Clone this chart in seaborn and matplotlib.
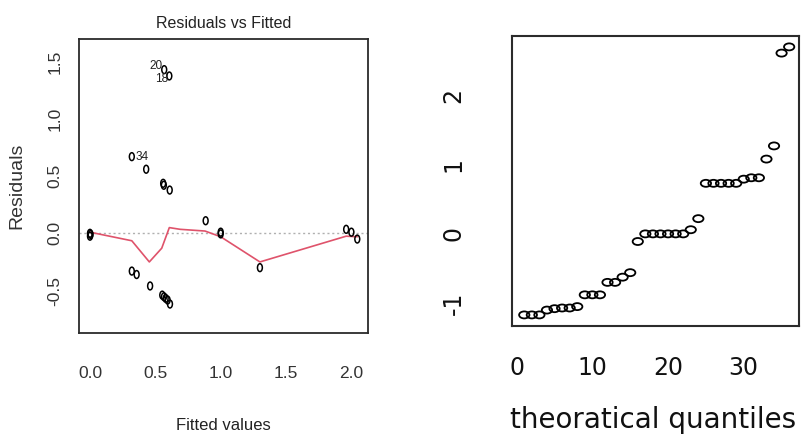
import numpy as np
import pandas as pd
import matplotlib
matplotlib.use("Agg")
import matplotlib.pyplot as plt
from matplotlib.path import Path
import seaborn as sns

# ---------------- data ----------------
fitted = [0.0, 0.0, 0.005, 0.32, 0.43, 0.56, 0.565, 0.61, 0.568, 0.607,
          0.32, 0.357, 0.46, 0.553, 0.566, 0.579, 0.594, 0.612,
          0.885, 1.0, 1.0, 1.30, 1.96, 2.0, 2.045]
residuals = [0.0, -0.025, -0.01, 0.67, 0.56, 0.437, 0.42, 0.378, 1.43, 1.375,
             -0.33, -0.36, -0.46, -0.54, -0.554, -0.568, -0.583, -0.618,
             0.11, 0.01, -0.005, -0.30, 0.035, 0.01, -0.05]

smooth_x = [0.0, 0.32, 0.454, 0.549, 0.607, 0.69, 0.88, 1.0, 1.30, 1.96, 2.045]
smooth_y = [0.01, -0.065, -0.25, -0.13, 0.05, 0.035, 0.02, -0.03, -0.25, -0.025, -0.03]

label_text = ["34", "20", "18"]
label_x = [0.32, 0.568, 0.607]
label_y = [0.67, 1.43, 1.375]
label_side = ["right", "left", "left"]

left_xticks = [0.0, 0.5, 1.0, 1.5, 2.0]
left_yticks = [-0.5, 0.0, 0.5, 1.0, 1.5]

quantile_index = list(range(1, 37))
sorted_resid = [-1.17, -1.17, -1.17, -1.10, -1.08, -1.07, -1.07, -1.05,
                -0.88, -0.88, -0.88, -0.70, -0.70, -0.625, -0.56, -0.11,
                0.0, 0.0, 0.0, 0.0, 0.0, 0.0, 0.06, 0.22,
                0.73, 0.73, 0.73, 0.73, 0.73, 0.79, 0.81, 0.81,
                1.08, 1.27, 2.61, 2.70]
right_xticks = [0, 5, 10, 15, 20, 25, 30, 35]
right_xticklabels = ["0", "", "10", "", "20", "", "30", ""]
right_yticks = [-1, 0, 1, 2]

# ---------------- style ----------------
sns.set_theme(style="white")
plt.rcParams["font.family"] = ["DejaVu Sans"]
NARROW = ["Liberation Sans Narrow", "Liberation Sans", "DejaVu Sans"]
ARIAL = ["Liberation Sans", "DejaVu Sans"]

def ellipse_marker(wx, hy):
    c = Path.unit_circle()
    return Path(c.vertices * np.array([wx, hy]), c.codes)

fig = plt.figure(figsize=(8.03, 4.40), dpi=100)
W, H = 803, 440

def add_axes_px(x0, y0, x1, y1):
    return fig.add_axes([x0 / W, 1 - y1 / H, (x1 - x0) / W, (y1 - y0) / H])

spine_col = "#2b2b2b"

# ---------------- left: Residuals vs Fitted ----------------
ax1 = add_axes_px(79, 39, 368, 333)
df1 = pd.DataFrame({"fitted": fitted, "resid": residuals})
ax1.axhline(0, color="#b0b0b0", ls=(0, (1.5, 2)), lw=1.0, zorder=1)
sns.lineplot(x=smooth_x, y=smooth_y, ax=ax1, color="#DF536B", lw=1.2,
             sort=False, estimator=None, zorder=2)
sns.scatterplot(data=df1, x="fitted", y="resid", ax=ax1,
                marker=ellipse_marker(0.62, 1.0), s=32, linewidth=1.1, zorder=3)
ax1.collections[-1].set_facecolor("none")
ax1.collections[-1].set_edgecolor("black")

offsets = {"20": (-1, 2.5), "18": (-1, -2.5)}
for t, x, y, side in zip(label_text, label_x, label_y, label_side):
    if side == "right":
        ax1.annotate(t, (x, y), xytext=(3, 0), textcoords="offset points",
                     ha="left", va="center", fontsize=8.5, family=NARROW, color="#222222")
    else:
        ax1.annotate(t, (x, y), xytext=offsets.get(t, (-1, 0)), textcoords="offset points",
                     ha="right", va="center", fontsize=8.5, family=NARROW, color="#222222")

ax1.set_xlim(-0.084, 2.127)
ax1.set_ylim(-0.871, 1.698)
ax1.set_xticks(left_xticks)
ax1.set_xticklabels(["0.0", "0.5", "1.0", "1.5", "2.0"], family=NARROW, fontsize=12.5, color="#333333")
ax1.set_yticks(left_yticks)
ax1.set_yticklabels(["-0.5", "0.0", "0.5", "1.0", "1.5"], family=ARIAL, fontsize=12.5,
                    rotation=90, va="center", color="#333333")
ax1.tick_params(axis="x", direction="out", length=10, width=1.2, color=spine_col, pad=14)
ax1.tick_params(axis="y", direction="out", length=7, width=1.2, color=spine_col, pad=5)
for s in ax1.spines.values():
    s.set_color(spine_col)
    s.set_linewidth(1.3)
ax1.set_title("Residuals vs Fitted", family=NARROW, fontsize=11.5, color="#222222", pad=8)
ax1.set_xlabel("Fitted values", family=NARROW, fontsize=12, color="#222222")
ax1.xaxis.set_label_coords(0.5, -0.29)
ax1.set_ylabel("Residuals", family=ARIAL, fontsize=14, color="#333333")
ax1.yaxis.set_label_coords(-0.185, 0.5)

# ---------------- right: quantile plot ----------------
ax2 = add_axes_px(512, 36, 799, 326)
df2 = pd.DataFrame({"q": quantile_index, "r": sorted_resid})
sns.scatterplot(data=df2, x="q", y="r", ax=ax2,
                marker=ellipse_marker(1.0, 0.68), s=55, linewidth=1.3, zorder=3)
ax2.collections[-1].set_facecolor("none")
ax2.collections[-1].set_edgecolor("black")
ax2.set_xlim(-0.62, 37.3)
ax2.set_ylim(-1.33, 2.857)
ax2.set_xticks(right_xticks)
ax2.set_xticklabels(right_xticklabels, fontsize=17, color="#111111")
ax2.set_yticks(right_yticks)
ax2.set_yticklabels([str(v) for v in right_yticks], fontsize=17, rotation=90,
                    va="center", color="#111111")
ax2.tick_params(axis="x", direction="out", length=8.5, width=1.4, color=spine_col, pad=13)
ax2.tick_params(axis="y", direction="out", length=14.5, width=1.4, color=spine_col, pad=19)
for s in ax2.spines.values():
    s.set_color(spine_col)
    s.set_linewidth(1.5)
ax2.set_xlabel("theoratical quantiles", fontsize=20, color="#111111")
ax2.xaxis.set_label_coords(0.49, -0.275)
ax2.set_ylabel("")

fig.savefig("out.png", dpi=100)
